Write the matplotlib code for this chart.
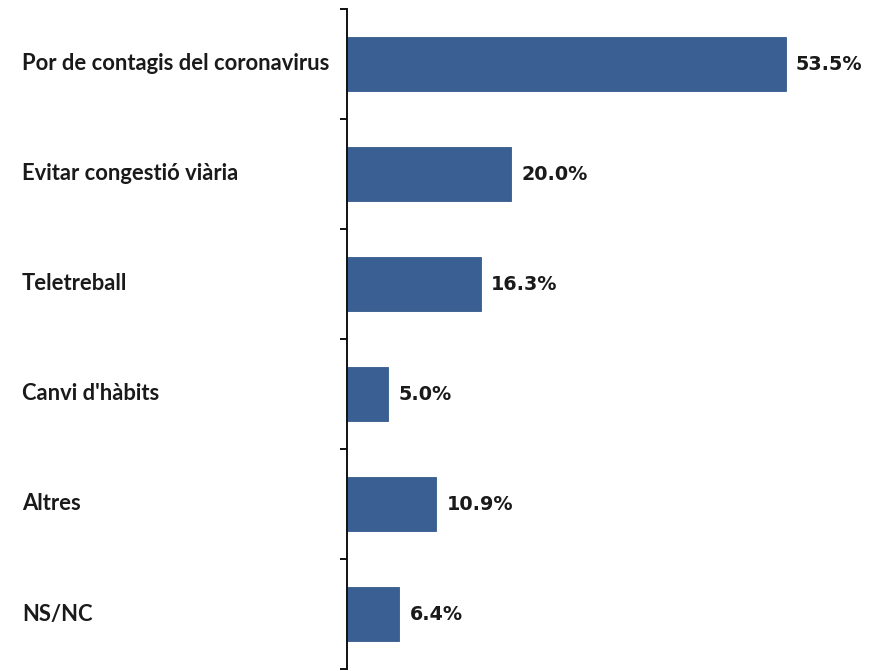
import matplotlib.pyplot as plt
from matplotlib.transforms import blended_transform_factory

categories = ["Por de contagis del coronavirus", "Evitar congestió viària", "Teletreball",
              "Canvi d'hàbits", "Altres", "NS/NC"]
values = [53.5, 20.0, 16.3, 5.0, 10.9, 6.4]

W, H = 879, 671
fig = plt.figure(figsize=(W / 100, H / 100), dpi=100)
ax = fig.add_axes([347 / W, 1 - 669 / H, (839 - 347) / W, 660 / H])

ypos = list(range(len(categories)))
ax.barh(ypos, values, height=0.49, color='#3a5f93', edgecolor='#355a8c', linewidth=0.6)
ax.set_xlim(0, 60)
ax.set_ylim(len(categories) - 0.5, -0.5)

for y, v in zip(ypos, values):
    ax.text(v + 1.25, y, '{:.1f}%'.format(v), va='center', ha='left',
            fontsize=13.8, fontweight='bold', color='#1a1a1a', family='DejaVu Sans')

# category labels, left-aligned in the margin
trans = blended_transform_factory(fig.transFigure, ax.transData)
for y, c in zip(ypos, categories):
    ax.text(22 / W, y, c, transform=trans, va='center', ha='left',
            fontsize=15.8, fontweight='bold', color='#1a1a1a', family='Lato')

for s in ['top', 'right', 'bottom']:
    ax.spines[s].set_visible(False)
ax.spines['left'].set_linewidth(1.4)
ax.spines['left'].set_color('#111111')
ax.set_xticks([])
ax.set_yticks([y - 0.5 for y in ypos] + [len(categories) - 0.5])
ax.set_yticklabels([])
ax.tick_params(axis='y', length=5, width=1.4, color='#111111', direction='out')

fig.savefig('out.png', dpi=100)
